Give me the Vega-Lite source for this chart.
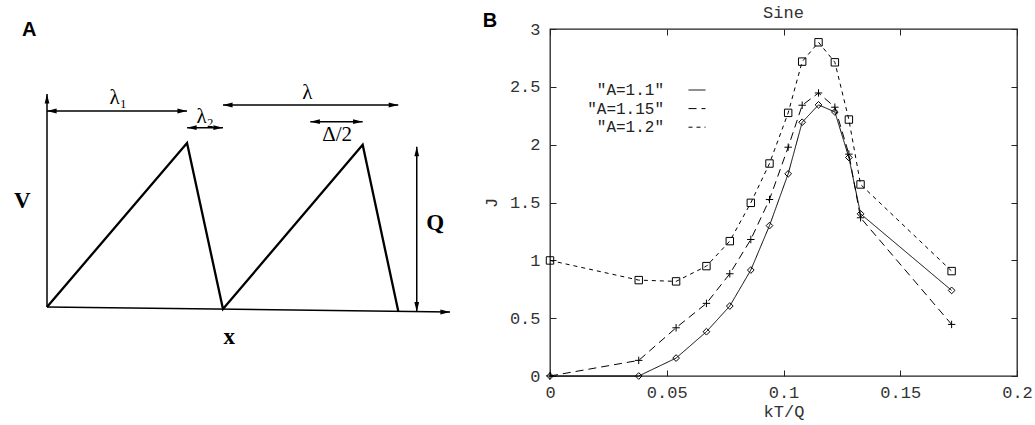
{
  "$schema": "https://vega.github.io/schema/vega-lite/v6.json",
  "background": "white",
  "padding": {"left": 14, "top": 3, "right": 5, "bottom": 5},
  "bounds": "flush",
  "spacing": 100,
  "config": {"view": {"stroke": null}},
  "resolve": {
    "scale": {"shape": "independent", "strokeDash": "independent"},
    "legend": {"shape": "independent", "strokeDash": "independent"}
  },
  "datasets": {
    "sawtooth": [
      {"i": 0, "x": 0, "v": 0.06},
      {"i": 1, "x": 4.17, "v": 4.98},
      {"i": 2, "x": 5.24, "v": 0.0},
      {"i": 3, "x": 9.40, "v": 4.93},
      {"i": 4, "x": 10.46, "v": -0.07}
    ],
    "guides": [
      {"part": "baseline", "x": 0, "y": 0.06, "x2": 12, "y2": -0.09},
      {"part": "V axis", "x": 0, "y": 0.06, "x2": 0, "y2": 6.45},
      {"part": "lambda1", "x": 0, "y": 5.94, "x2": 4.17, "y2": 5.94},
      {"part": "lambda2", "x": 4.17, "y": 5.44, "x2": 5.24, "y2": 5.44},
      {"part": "lambda", "x": 5.24, "y": 6.12, "x2": 10.46, "y2": 6.12},
      {"part": "delta/2", "x": 7.84, "y": 5.62, "x2": 9.40, "y2": 5.62},
      {"part": "Q", "x": 11.01, "y": 4.87, "x2": 11.01, "y2": -0.08}
    ],
    "heads": [
      {"x": 0, "y": 6.45, "dir": "up"},
      {"x": 12, "y": -0.09, "dir": "right"},
      {"x": 0, "y": 5.94, "dir": "left"},
      {"x": 4.17, "y": 5.94, "dir": "right"},
      {"x": 4.17, "y": 5.44, "dir": "left"},
      {"x": 5.24, "y": 5.44, "dir": "right"},
      {"x": 5.24, "y": 6.12, "dir": "left"},
      {"x": 10.46, "y": 6.12, "dir": "right"},
      {"x": 7.84, "y": 5.62, "dir": "left"},
      {"x": 9.40, "y": 5.62, "dir": "right"},
      {"x": 11.01, "y": 4.87, "dir": "up"},
      {"x": 11.01, "y": -0.08, "dir": "down"}
    ],
    "diagramLabels": [
      {"kind": "symbol", "label": "λ₁", "x": 2.12, "y": 6.33},
      {"kind": "symbol", "label": "λ₂", "x": 4.71, "y": 5.76},
      {"kind": "symbol", "label": "λ", "x": 7.75, "y": 6.48},
      {"kind": "symbol", "label": "Δ/2", "x": 8.64, "y": 5.22},
      {"kind": "variable", "label": "V", "x": -0.735, "y": 3.24},
      {"kind": "variable", "label": "Q", "x": 11.56, "y": 2.58},
      {"kind": "variable", "label": "x", "x": 5.43, "y": -0.84},
      {"kind": "panel", "label": "A", "x": -0.53, "y": 8.37},
      {"kind": "panel", "label": "B", "x": 13.19, "y": 8.64}
    ],
    "curves": [
      {"series": "A=1.1", "kT": 0, "J": 0},
      {"series": "A=1.1", "kT": 0.038, "J": 0},
      {"series": "A=1.1", "kT": 0.054, "J": 0.155},
      {"series": "A=1.1", "kT": 0.067, "J": 0.383},
      {"series": "A=1.1", "kT": 0.077, "J": 0.605},
      {"series": "A=1.1", "kT": 0.086, "J": 0.916},
      {"series": "A=1.1", "kT": 0.094, "J": 1.30},
      {"series": "A=1.1", "kT": 0.102, "J": 1.748},
      {"series": "A=1.1", "kT": 0.108, "J": 2.194},
      {"series": "A=1.1", "kT": 0.115, "J": 2.344},
      {"series": "A=1.1", "kT": 0.122, "J": 2.283},
      {"series": "A=1.1", "kT": 0.128, "J": 1.889},
      {"series": "A=1.1", "kT": 0.133, "J": 1.402},
      {"series": "A=1.1", "kT": 0.172, "J": 0.740},
      {"series": "A=1.15", "kT": 0, "J": 0},
      {"series": "A=1.15", "kT": 0.038, "J": 0.135},
      {"series": "A=1.15", "kT": 0.054, "J": 0.417},
      {"series": "A=1.15", "kT": 0.067, "J": 0.628},
      {"series": "A=1.15", "kT": 0.077, "J": 0.884},
      {"series": "A=1.15", "kT": 0.086, "J": 1.18},
      {"series": "A=1.15", "kT": 0.094, "J": 1.526},
      {"series": "A=1.15", "kT": 0.102, "J": 1.978},
      {"series": "A=1.15", "kT": 0.108, "J": 2.341},
      {"series": "A=1.15", "kT": 0.115, "J": 2.447},
      {"series": "A=1.15", "kT": 0.122, "J": 2.324},
      {"series": "A=1.15", "kT": 0.128, "J": 1.918},
      {"series": "A=1.15", "kT": 0.133, "J": 1.368},
      {"series": "A=1.15", "kT": 0.172, "J": 0.446},
      {"series": "A=1.2", "kT": 0, "J": 0.999},
      {"series": "A=1.2", "kT": 0.038, "J": 0.829},
      {"series": "A=1.2", "kT": 0.054, "J": 0.818},
      {"series": "A=1.2", "kT": 0.067, "J": 0.950},
      {"series": "A=1.2", "kT": 0.077, "J": 1.166},
      {"series": "A=1.2", "kT": 0.086, "J": 1.497},
      {"series": "A=1.2", "kT": 0.094, "J": 1.837},
      {"series": "A=1.2", "kT": 0.102, "J": 2.275},
      {"series": "A=1.2", "kT": 0.108, "J": 2.718},
      {"series": "A=1.2", "kT": 0.115, "J": 2.885},
      {"series": "A=1.2", "kT": 0.122, "J": 2.712},
      {"series": "A=1.2", "kT": 0.128, "J": 2.217},
      {"series": "A=1.2", "kT": 0.133, "J": 1.656},
      {"series": "A=1.2", "kT": 0.172, "J": 0.907}
    ]
  },
  "hconcat": [
    {
      "width": 403,
      "height": 280,
      "view": {"stroke": null},
      "layer": [
        {
          "data": {"name": "guides"},
          "mark": {"type": "rule", "color": "black", "strokeWidth": 1.5},
          "encoding": {
            "x": {"field": "x", "type": "quantitative", "scale": {"domain": [0, 12], "nice": false, "zero": false}, "axis": null},
            "y": {"field": "y", "type": "quantitative", "scale": {"domain": [0, 8.4], "nice": false, "zero": false}, "axis": null},
            "x2": {"field": "x2"},
            "y2": {"field": "y2"}
          }
        },
        {
          "data": {"name": "sawtooth"},
          "mark": {"type": "line", "color": "black", "strokeWidth": 2.3, "strokeJoin": "miter"},
          "encoding": {
            "x": {"field": "x", "type": "quantitative", "scale": {"domain": [0, 12], "nice": false, "zero": false}, "axis": null},
            "y": {"field": "v", "type": "quantitative", "scale": {"domain": [0, 8.4], "nice": false, "zero": false}, "axis": null},
            "order": {"field": "i", "type": "quantitative"}
          }
        },
        {
          "data": {"name": "heads"},
          "mark": {"type": "point", "filled": true, "color": "black", "opacity": 1, "size": 64, "strokeWidth": 0},
          "encoding": {
            "x": {"field": "x", "type": "quantitative", "scale": {"domain": [0, 12], "nice": false, "zero": false}, "axis": null},
            "y": {"field": "y", "type": "quantitative", "scale": {"domain": [0, 8.4], "nice": false, "zero": false}, "axis": null},
            "shape": {
              "field": "dir",
              "type": "nominal",
              "scale": {
                "domain": ["left", "right", "up", "down"],
                "range": ["M0,0L2.4,-0.6L2.4,0.6Z", "M0,0L-2.4,-0.6L-2.4,0.6Z", "M0,0L-0.6,2.4L0.6,2.4Z", "M0,0L-0.6,-2.4L0.6,-2.4Z"]
              },
              "legend": null
            }
          }
        },
        {
          "data": {"name": "diagramLabels"},
          "transform": [{"filter": "datum.kind == 'symbol'"}],
          "mark": {"type": "text", "font": "Liberation Serif", "fontSize": 21, "color": "black"},
          "encoding": {
            "x": {"field": "x", "type": "quantitative", "scale": {"domain": [0, 12], "nice": false, "zero": false}, "axis": null},
            "y": {"field": "y", "type": "quantitative", "scale": {"domain": [0, 8.4], "nice": false, "zero": false}, "axis": null},
            "text": {"field": "label"}
          }
        },
        {
          "data": {"name": "diagramLabels"},
          "transform": [{"filter": "datum.kind == 'variable'"}],
          "mark": {"type": "text", "font": "Liberation Serif", "fontSize": 23, "fontWeight": "bold", "color": "black"},
          "encoding": {
            "x": {"field": "x", "type": "quantitative", "scale": {"domain": [0, 12], "nice": false, "zero": false}, "axis": null},
            "y": {"field": "y", "type": "quantitative", "scale": {"domain": [0, 8.4], "nice": false, "zero": false}, "axis": null},
            "text": {"field": "label"}
          }
        },
        {
          "data": {"name": "diagramLabels"},
          "transform": [{"filter": "datum.kind == 'panel'"}],
          "mark": {"type": "text", "font": "Liberation Sans", "fontSize": 20, "fontWeight": "bold", "color": "black"},
          "encoding": {
            "x": {"field": "x", "type": "quantitative", "scale": {"domain": [0, 12], "nice": false, "zero": false}, "axis": null},
            "y": {"field": "y", "type": "quantitative", "scale": {"domain": [0, 8.4], "nice": false, "zero": false}, "axis": null},
            "text": {"field": "label"}
          }
        }
      ]
    },
    {
      "width": 467,
      "height": 347,
      "view": {"stroke": "#222", "strokeWidth": 1.3},
      "title": {"text": "Sine", "font": "Liberation Mono", "fontSize": 17, "fontWeight": "normal", "color": "#333", "offset": -2},
      "data": {"name": "curves"},
      "layer": [
        {
          "mark": {"type": "line", "color": "black", "strokeWidth": 1},
          "encoding": {
            "x": {
              "field": "kT", "type": "quantitative",
              "scale": {"domain": [0, 0.2], "nice": false, "zero": false},
              "axis": {
                "orient": "bottom", "values": [0, 0.05, 0.1, 0.15, 0.2], "format": "~g",
                "tickSize": -6, "tickColor": "#222", "domain": false, "grid": false,
                "labelPadding": 14, "labelFont": "Liberation Mono", "labelFontSize": 17, "labelColor": "#333",
                "labelFlush": false, "labelOverlap": false,
                "title": "kT/Q", "titleFont": "Liberation Mono", "titleFontSize": 17, "titleFontWeight": "normal", "titleColor": "#333", "titlePadding": 3
              }
            },
            "y": {
              "field": "J", "type": "quantitative",
              "scale": {"domain": [0, 3], "nice": false, "zero": false},
              "axis": {
                "orient": "left", "values": [0, 0.5, 1, 1.5, 2, 2.5, 3], "format": "~g",
                "tickSize": -6, "tickColor": "#222", "domain": false, "grid": false,
                "labelPadding": 16, "labelFont": "Liberation Mono", "labelFontSize": 17, "labelColor": "#333",
                "labelFlush": false, "labelOverlap": false,
                "title": "J", "titleFont": "Liberation Mono", "titleFontSize": 17, "titleFontWeight": "normal", "titleColor": "#333", "titlePadding": 9
              }
            },
            "strokeDash": {
              "field": "series", "type": "nominal",
              "scale": {"domain": ["A=1.1", "A=1.15", "A=1.2"], "range": [[1, 0], [8, 5], [4, 4]]},
              "legend": {
                "orient": "none", "legendX": 138, "legendY": 52, "title": null, "padding": 0,
                "rowPadding": 1.6, "labelFont": "Liberation Mono", "labelFontSize": 16, "labelColor": "#222",
                "labelAlign": "right", "labelOffset": -42,
                "labelExpr": "'\"' + datum.label + '\"'",
                "symbolSize": 289, "symbolStrokeWidth": 1, "symbolStrokeColor": "black"
              }
            }
          }
        },
        {
          "transform": [{"filter": "datum.series == 'A=1.1'"}],
          "mark": {"type": "point", "shape": "diamond", "filled": false, "color": "black", "strokeWidth": 1, "size": 45, "opacity": 1},
          "encoding": {
            "x": {
              "field": "kT", "type": "quantitative",
              "scale": {"domain": [0, 0.2], "nice": false, "zero": false},
              "axis": {"orient": "top", "values": [0, 0.05, 0.1, 0.15, 0.2], "labels": false, "tickSize": -6, "tickColor": "#222", "domain": false, "grid": false, "title": null}
            },
            "y": {
              "field": "J", "type": "quantitative",
              "scale": {"domain": [0, 3], "nice": false, "zero": false},
              "axis": {"orient": "right", "values": [0, 0.5, 1, 1.5, 2, 2.5, 3], "labels": false, "tickSize": -6, "tickColor": "#222", "domain": false, "grid": false, "title": null}
            }
          }
        },
        {
          "transform": [{"filter": "datum.series == 'A=1.15'"}],
          "mark": {"type": "point", "shape": "M-1,0H1M0,-1V1", "filled": false, "color": "black", "strokeWidth": 1, "size": 55, "opacity": 1},
          "encoding": {
            "x": {"field": "kT", "type": "quantitative", "scale": {"domain": [0, 0.2], "nice": false, "zero": false}, "axis": null},
            "y": {"field": "J", "type": "quantitative", "scale": {"domain": [0, 3], "nice": false, "zero": false}, "axis": null}
          }
        },
        {
          "transform": [{"filter": "datum.series == 'A=1.2'"}],
          "mark": {"type": "point", "shape": "square", "filled": false, "color": "black", "strokeWidth": 1, "size": 55, "opacity": 1},
          "encoding": {
            "x": {"field": "kT", "type": "quantitative", "scale": {"domain": [0, 0.2], "nice": false, "zero": false}, "axis": null},
            "y": {"field": "J", "type": "quantitative", "scale": {"domain": [0, 3], "nice": false, "zero": false}, "axis": null}
          }
        }
      ],
      "resolve": {"axis": {"x": "independent", "y": "independent"}}
    }
  ]
}
